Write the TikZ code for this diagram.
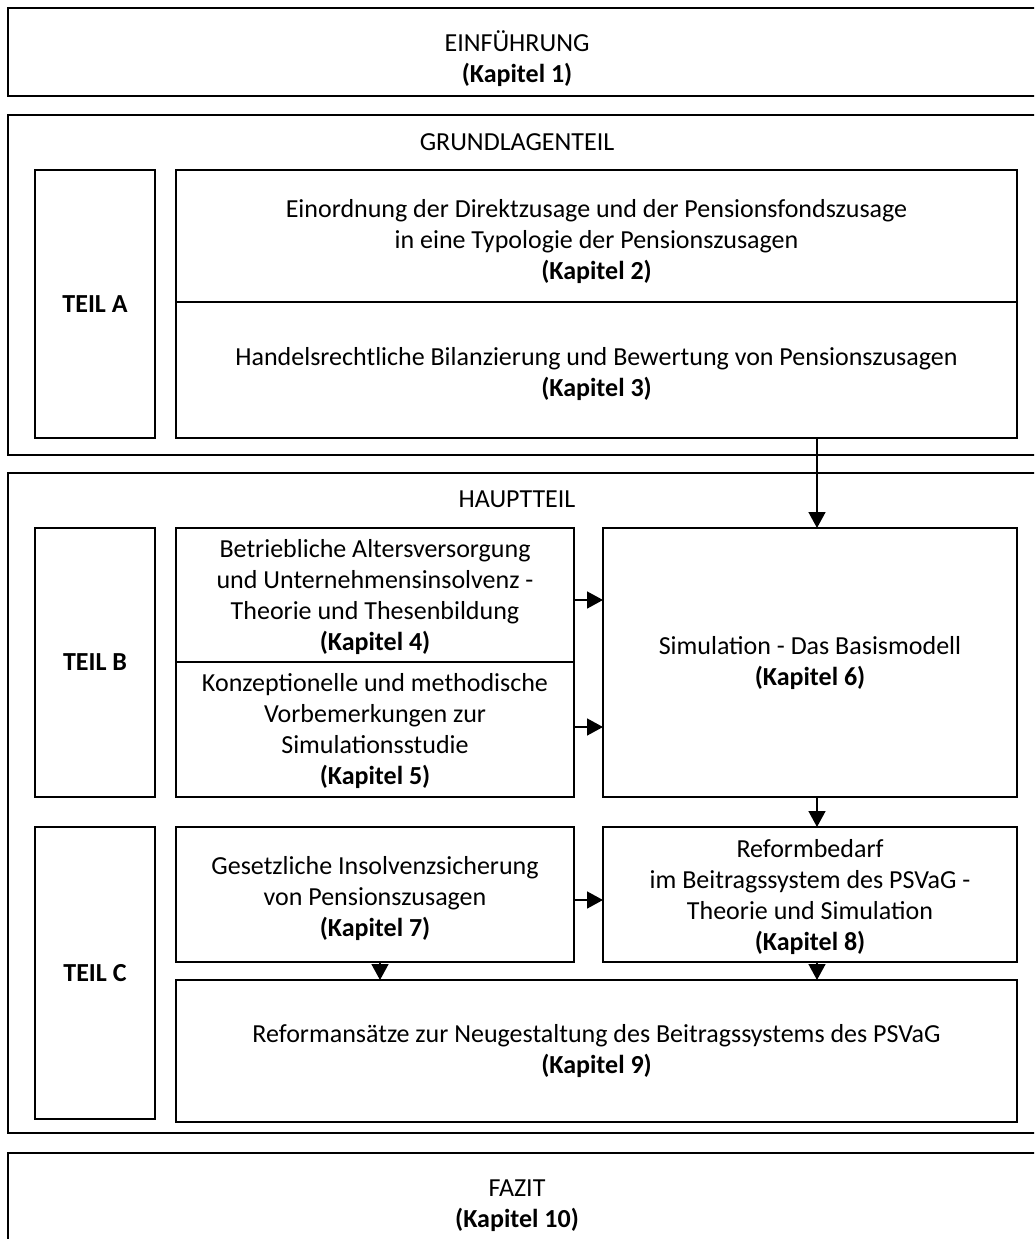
\documentclass[tikz,border=0pt]{standalone}
\usepackage{fontspec}
\setmainfont{Carlito}
\usetikzlibrary{arrows.meta,calc}
\begin{document}
\begin{tikzpicture}[x=1pt,y=-1pt,
  lw/.style={line width=1.6pt},
  frame/.style={lw,draw=black},
  txt/.style={align=center,inner sep=0pt,font=\fontsize{26}{31}\selectfont},
  arr/.style={lw,-{Triangle[length=16pt,width=17pt]}}]
\useasboundingbox (0,0) rectangle (1034,1239);
\clip (0,0) rectangle (1034,1239);
\fill[white] (0,0) rectangle (1034,1239);
% outer frames
\draw[frame] (8,8) rectangle (1045,96);
\node[txt] (einf) at (517,59) {EINFÜHRUNG\\\textbf{(Kapitel 1)}};
\draw[frame] (8,115) rectangle (1045,455);
\node[txt] (grund) at (517,142) {GRUNDLAGENTEIL};
\draw[frame] (8,473) rectangle (1045,1133);
\node[txt] (haupt) at (517,499) {HAUPTTEIL};
\draw[frame] (8,1153) rectangle (1045,1250);
\node[txt] (fazit) at (517,1206) {FAZIT\\\textbf{(Kapitel 10)}};
% part boxes
\draw[frame] (35,170) rectangle (155,438);
\node[txt] (teila) at (95,304) {\textbf{TEIL A}};
\draw[frame] (35,528) rectangle (155,797);
\node[txt] (teilb) at (95,662) {\textbf{TEIL B}};
\draw[frame] (35,827) rectangle (155,1119);
\node[txt] (teilc) at (95,973) {\textbf{TEIL C}};
% chapter boxes
\draw[frame] (176,170) rectangle (1017,302);
\node[txt] (k2) at (596.5,242) {Einordnung der Direktzusage und der Pensionsfondszusage\\in eine Typologie der Pensionszusagen\\\textbf{(Kapitel 2)}};
\draw[frame] (176,302) rectangle (1017,438);
\node[txt] (k3) at (596.5,374) {Handelsrechtliche Bilanzierung und Bewertung von Pensionszusagen\\\textbf{(Kapitel 3)}};
\draw[frame] (176,528) rectangle (574,662);
\node[txt] (k4) at (375,597) {Betriebliche Altersversorgung\\und Unternehmensinsolvenz -\\Theorie und Thesenbildung\\\textbf{(Kapitel 4)}};
\draw[frame] (176,662) rectangle (574,797);
\node[txt] (k5) at (375,731) {Konzeptionelle und methodische\\Vorbemerkungen zur\\Simulationsstudie\\\textbf{(Kapitel 5)}};
\draw[frame] (603,528) rectangle (1017,797);
\node[txt] (k6) at (810,663) {Simulation - Das Basismodell\\\textbf{(Kapitel 6)}};
\draw[frame] (176,827) rectangle (574,962);
\node[txt] (k7) at (375,899) {Gesetzliche Insolvenzsicherung\\von Pensionszusagen\\\textbf{(Kapitel 7)}};
\draw[frame] (603,827) rectangle (1017,962);
\node[txt] (k8) at (810,897) {Reformbedarf\\im Beitragssystem des PSVaG -\\Theorie und Simulation\\\textbf{(Kapitel 8)}};
\draw[frame] (176,980) rectangle (1017,1122);
\node[txt] (k9) at (596.5,1051) {Reformansätze zur Neugestaltung des Beitragssystems des PSVaG\\\textbf{(Kapitel 9)}};
% anchor coordinates on box edges
\coordinate (k3s) at (817,438);
\coordinate (k6n) at (817,528);
\coordinate (k4e) at (574,600);
\coordinate (k6wa) at (603,600);
\coordinate (k5e) at (574,727);
\coordinate (k6wb) at (603,727);
\coordinate (k6s) at (817,797);
\coordinate (k8n) at (817,827);
\coordinate (k7e) at (574,900);
\coordinate (k8w) at (603,900);
\coordinate (k7s) at (380,962);
\coordinate (k9na) at (380,980);
\coordinate (k8s) at (817,962);
\coordinate (k9nb) at (817,980);
\draw[arr] (k3s) -- (k6n);
\draw[arr] (k4e) -- (k6wa);
\draw[arr] (k5e) -- (k6wb);
\draw[arr] (k6s) -- (k8n);
\draw[arr] (k7e) -- (k8w);
\draw[arr] (k7s) -- (k9na);
\draw[arr] (k8s) -- (k9nb);
\end{tikzpicture}
\end{document}
